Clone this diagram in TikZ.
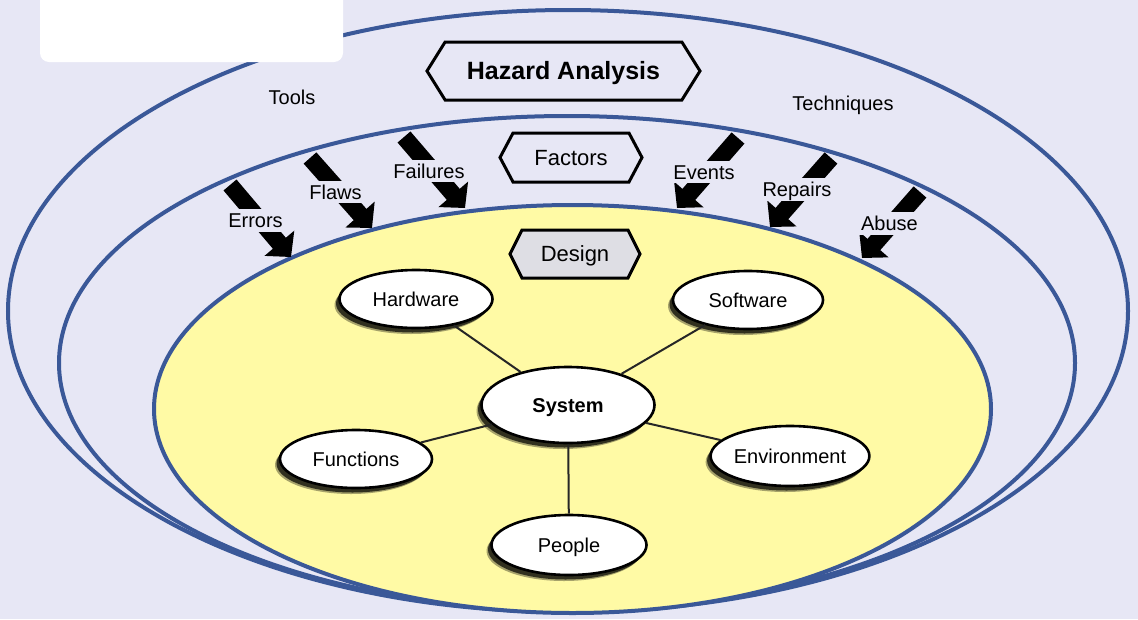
\documentclass[tikz,border=0pt]{standalone}
\usepackage{fontspec}
\setmainfont{Liberation Sans}
\usetikzlibrary{shapes.symbols,shapes.geometric,shadows,arrows.meta}
\definecolor{bgcol}{RGB}{231,231,245}
\definecolor{ringblue}{RGB}{58,88,152}
\definecolor{coreyellow}{RGB}{255,250,165}
\definecolor{designgrey}{RGB}{222,222,228}

\begin{document}
\begin{tikzpicture}[x=1pt,y=-1pt,
  txt20/.style={font=\fontsize{20}{24}\selectfont, text height=14.3pt, text depth=0pt},
  ring/.style={ellipse, draw=ringblue, line width=4pt, inner sep=0pt},
  hexlabel/.style={signal, signal to=west and east, draw=black, line width=3pt,
    inner sep=0pt, fill=bgcol, font=\fontsize{22}{26}\selectfont,
    text height=15.8pt, text depth=0pt},
  part/.style={ellipse, draw=black, line width=2.6pt, fill=white, inner sep=0pt,
    minimum width=153pt, minimum height=58pt, txt20,
    drop shadow={shadow xshift=-5pt, shadow yshift=-6pt, opacity=0.35, fill=black},
    drop shadow={shadow xshift=-3.5pt, shadow yshift=-4.5pt, opacity=0.7, fill=black}},
  link/.style={draw=black!85, line width=2pt},
  factor/.style={line width=17pt, -{Triangle[length=18pt,width=38pt]}},
  flabel/.style={fill=bgcol, inner xsep=2pt, inner ysep=4pt, txt20},
  plain/.style={inner sep=0pt, txt20}
]
\useasboundingbox (0,0) rectangle (1138,619);
\fill[bgcol] (0,0) rectangle (1138,619);

% the three nested rings
\node[ring, minimum width=1120pt, minimum height=602pt] (toolsring) at (568,311) {};
\node[ring, minimum width=1016pt, minimum height=494pt] (factorsring) at (567,363) {};
\node[ring, fill=coreyellow, minimum width=837pt, minimum height=408pt] (designring) at (572.5,409) {};

% blank title panel in the corner
\node[fill=white, rounded corners=9pt, minimum width=303pt, minimum height=80pt,
  inner sep=0pt] (titlebox) at (191.5,22) {};

% ring headings
\node[hexlabel, minimum width=273pt, minimum height=58pt, signal pointer angle=116,
  font=\bfseries\fontsize{25}{30}\selectfont, text height=17.9pt] (hazard) at (563.5,71) {Hazard Analysis};
\node[hexlabel, minimum width=142pt, minimum height=49pt, signal pointer angle=124]
  (factors) at (571,157.5) {Factors};
\node[hexlabel, fill=designgrey, minimum width=130pt, minimum height=48pt,
  signal pointer angle=127] (design) at (575,254) {Design};

\node[plain] (tools) at (292,97) {Tools};
\node[plain] (techniques) at (843,103.5) {Techniques};

% factor arrows from the middle ring onto the design core
\coordinate (errT) at (230,185);  \coordinate (errH) at (291,257);
\coordinate (flwT) at (310,158);  \coordinate (flwH) at (372,228);
\coordinate (failT) at (404,137); \coordinate (failH) at (465,208);
\coordinate (evtT) at (738,138);  \coordinate (evtH) at (677,208);
\coordinate (repT) at (831,158);  \coordinate (repH) at (770,227);
\coordinate (abuT) at (920,192);  \coordinate (abuH) at (862,258);
\foreach \t/\h in {errT/errH, flwT/flwH, failT/failH, evtT/evtH, repT/repH, abuT/abuH}
  \draw[factor] (\t) -- (\h);

\node[flabel] (errL) at (255.5,220.5) {Errors};
\node[flabel] (flwL) at (335.5,192) {Flaws};
\node[flabel] (failL) at (429,171) {Failures};
\node[flabel] (evtL) at (704,172) {Events};
\node[flabel] (repL) at (797,189.5) {Repairs};
\node[flabel] (abuL) at (889.5,223.5) {Abuse};

% system and its parts
\node[part, minimum width=173pt, minimum height=76pt,
  font=\bfseries\fontsize{20}{24}\selectfont] (sys) at (568,405) {System};
\node[part] (hw) at (416,299) {Hardware};
\node[part, minimum width=150pt] (sw) at (748,300) {Software};
\node[part, minimum width=152pt] (fn) at (356,459) {Functions};
\node[part, minimum width=155pt, minimum height=60pt] (env) at (790,456) {Environment};
\node[part, minimum width=155pt, minimum height=60pt] (ppl) at (569,545) {People};

\foreach \n in {hw, sw, fn, env, ppl}
  \draw[link] (sys) -- (\n);
\end{tikzpicture}
\end{document}
